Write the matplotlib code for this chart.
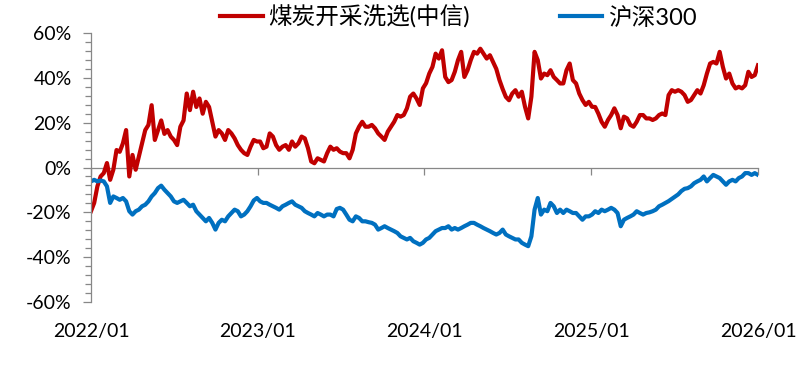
import numpy as np
import pandas as pd
import matplotlib
matplotlib.use("Agg")
import matplotlib.pyplot as plt
import matplotlib.dates as mdates
from matplotlib.ticker import FuncFormatter, MultipleLocator

plt.rcParams['font.family'] = ['Lato', 'Noto Sans CJK SC', 'DejaVu Sans']

# Rendement cumulé (%) - points hebdomadaires
coal = [
    -19.5, -15.8, -8.4, -4, -2.5, 2, -5.5, -1, 7.8, 7, 10.8, 16.7, -4, 5.6, -1, 5,
    10.8, 16.7, 19, 27.8, 12.3, 16.7, 21, 15, 16.7, 13.8, 12.3,
    10, 18.2, 21, 33, 25.6, 33.8, 27, 30.8, 24, 29.3, 27, 20.4, 13.8, 16.7, 15.2,
    12.3, 16.7, 15.2, 13, 10, 7.9, 6.4, 5.6, 9.3, 12.3, 11.6,
    11.6, 8.6, 9.3, 15.2, 13.8, 10, 7.9, 9.3, 10, 7.9, 11.6, 9.3, 10.8, 13.8, 13,
    8.6, 2.7, 1.9, 4.1, 3.4, 2.7, 6.4, 9.3, 7.9, 8.6, 7.1, 6.4,
    6.4, 4.1, 7.9, 15.2, 18.2, 20.4, 18.2, 18.2, 19, 17.5, 15.2, 13.8, 12.3, 16,
    18.2, 20.4, 23.4, 22.7, 23.4, 26.4, 31.6, 33, 30.8, 27.9, 35.3, 37.6, 41.9,
    44.9, 50.8, 48.6, 52.3, 40.4, 38.1, 39, 42.7, 47.9, 51.6, 40.4, 43.4, 47.9,
    51.6, 50.8, 53, 50.8, 48.6, 50.1, 47.1, 44, 39, 35, 31.5, 30, 33,
    34.5, 31.6, 33.8, 27.1, 21.9, 31.6, 51.6, 47.9, 39.7, 41.9, 41.2, 43.4, 40.4,
    39, 37.5, 37.5, 43.4, 46.4, 39, 37.5, 33, 30.1, 27.9, 29.3, 27.1, 27, 24,
    20.4, 18.2, 21.2, 23.4, 26.4, 23.4, 17.5, 22.7, 21.9, 19, 18.2, 20.4, 23.4,
    23.4, 21.9, 21.9, 21.2, 21.9, 23.4, 24.1, 23.4, 32.3, 34.5, 33.8, 34.5, 33.8,
    32.3, 29.3, 30.1, 32.3, 34.5, 33, 36.7, 41.9, 46.4, 47.1, 46.4, 51.6, 44.9,
    39.7, 41.9, 37.5, 35.3, 36, 35.3, 36.7, 42.7, 40.4, 41.2, 45.6,
]
hs300 = [
    -6.2, -5.5, -6.2, -5.8, -6.2, -8.4, -15.8, -12.9, -13.6, -14.4, -13.6, -15.1,
    -19.5, -21, -19.5, -18.8, -17.3, -16.6, -15.1, -12.9, -11.4, -9.2, -8.1, -9.9,
    -11.4, -12.9, -15.1,
    -15.8, -15.1, -14.4, -15.8, -17.3, -16.6, -19.5, -21, -22.5, -24, -22.5, -24.7,
    -27.7, -24.7, -23.3, -24, -21.8, -20.3, -18.8, -19.5, -21.8, -21, -19.5, -17.3,
    -14.7, -13.6,
    -15.1, -15.8, -15.8, -16.6, -17.3, -18, -18.8, -17.3, -16.6, -15.8, -15.1,
    -16.6, -17.3, -18, -19.5, -20.3, -21, -21.8, -20.3, -21, -21.8, -21, -21,
    -21.8, -18.5, -18, -18.8,
    -21, -23.3, -24, -21.8, -22.5, -24, -24, -24.4, -24.7, -25.5, -27.7, -27,
    -26.2, -27, -27.7, -28.4, -29.2, -30.7, -31.4, -32.1, -31.4, -32.9, -33.6,
    -34.4, -33.6, -32.1, -31.4,
    -29.9, -28.4, -27.7, -27, -27, -26.2, -27.7, -27, -27.7, -27, -26.2, -25.5,
    -24.7, -24.7, -25.5, -26.2, -27, -27.7, -28.4, -29.2, -29.9, -29.2, -27.7,
    -29.9, -30.7, -31.4,
    -32.1, -32.1, -33.6, -34.4, -35.1, -30.7, -18.8, -13.6, -21, -18.8, -19.5,
    -15.8, -17.3, -20.3, -18.8, -20.3, -18.8, -19.5, -20.3, -20.3, -21.8, -23.3,
    -21.8, -21.8, -21, -19.5, -20.3,
    -18.8, -19.5, -18.8, -18, -18.8, -20.3, -26.2, -23.3, -22.5, -21.8, -21,
    -19.5, -20.3, -21, -20.3, -20, -19.5, -18.8, -17.3, -16.6, -15.8, -15, -14,
    -13, -12, -10.5,
    -9.5, -9.2, -8.4, -7, -6.2, -5.5, -4, -6.2, -4.7, -3.3, -4, -4.7, -6.2, -7.7,
    -6.2, -5.5, -6.2, -4.7, -4, -2.5, -2.5, -3.3, -2.5, -3.3,
]
dates = pd.date_range("2022-01-01", "2026-01-01", periods=len(coal))

labels = ["煤炭开采洗选(中信)", "沪深300"]
colors = ["#C00000", "#0070C0"]
year_ticks = pd.to_datetime(["2022-01-01", "2023-01-01", "2024-01-01",
                             "2025-01-01", "2026-01-01"])
year_labels = ["2022/01", "2023/01", "2024/01", "2025/01", "2026/01"]
ymin, ymax = -60, 60
axis_gray = "#878787"

fig = plt.figure(figsize=(8.06, 3.71), dpi=100)
ax = fig.add_axes([0.1129, 0.186, 0.8275, 0.725])

ax.plot(dates, coal, color=colors[0], lw=3.0, label=labels[0])
ax.plot(dates, hs300, color=colors[1], lw=3.0, label=labels[1])

ax.set_xlim(year_ticks[0], year_ticks[-1])
ax.set_ylim(ymin, ymax)

# axe des x : libellés en bas, ligne horizontale à 0 %
ax.set_xticks(year_ticks)
ax.set_xticklabels(year_labels)
ax.tick_params(axis="x", length=0, pad=15, labelsize=14, colors="black")
for side in ["top", "right", "bottom"]:
    ax.spines[side].set_visible(False)

zero_pos = (0 - ymin) / (ymax - ymin)
sec = ax.secondary_xaxis(zero_pos)
sec.set_alignment("bottom")
sec.set_xticks(year_ticks)
sec.tick_params(axis="x", direction="out", length=5, width=0.9,
                color=axis_gray, labelbottom=False, labeltop=False)
sec.spines["bottom"].set_color(axis_gray)
sec.spines["bottom"].set_linewidth(0.9)

# axe des y
ax.yaxis.set_major_locator(MultipleLocator(20))
ax.yaxis.set_minor_locator(MultipleLocator(4))
ax.yaxis.set_major_formatter(FuncFormatter(lambda v, p: f"{v:.0f}%"))
ax.tick_params(axis="y", which="major", direction="out", length=6, width=0.9,
               color=axis_gray, pad=8, labelsize=14)
ax.tick_params(axis="y", which="minor", direction="out", length=4, width=0.9,
               color=axis_gray)
ax.spines["left"].set_color(axis_gray)
ax.spines["left"].set_linewidth(0.9)

fig.legend(loc="center", bbox_to_anchor=(0.569, 0.954), ncol=2, frameon=False,
           fontsize=17, handlelength=1.8, handletextpad=0.25, columnspacing=3.8,
           borderaxespad=0, borderpad=0)

fig.savefig("out.png", dpi=100)
